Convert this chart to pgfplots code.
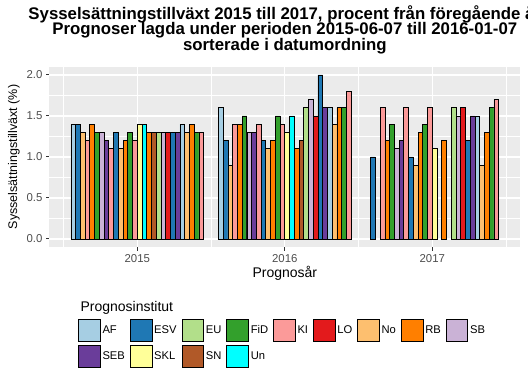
\documentclass[border=0pt]{standalone}
\usepackage{pgfplots}
\pgfplotsset{compat=1.18}
\usepackage{pgfplotstable}
\usepackage{fontspec}
\setmainfont{Liberation Sans}
\definecolor{cAF}{HTML}{A6CEE3}
\definecolor{cESV}{HTML}{1F78B4}
\definecolor{cEU}{HTML}{B2DF8A}
\definecolor{cFiD}{HTML}{33A02C}
\definecolor{cKI}{HTML}{FB9A99}
\definecolor{cLO}{HTML}{E31A1C}
\definecolor{cNo}{HTML}{FDBF6F}
\definecolor{cRB}{HTML}{FF7F00}
\definecolor{cSB}{HTML}{CAB2D6}
\definecolor{cSEB}{HTML}{6A3D9A}
\definecolor{cSKL}{HTML}{FFFF99}
\definecolor{cSN}{HTML}{B15928}
\definecolor{cUn}{HTML}{00FFFF}
\definecolor{panelbg}{HTML}{EBEBEB}
\definecolor{tickgrey}{HTML}{333333}
\definecolor{labgrey}{HTML}{4D4D4D}
\pgfplotstableread{
yr slot v
2015 1 1.4
2015 24 1.4
2016 1 1.6
2016 24 1.6
2017 24 1.5
}\tAF
\pgfplotstableread{
yr slot v
2015 2 1.4
2015 10 1.3
2015 22 1.3
2016 2 1.2
2016 10 1.2
2016 22 2.0
2017 2 1.0
2017 10 1.0
2017 22 1.2
}\tESV
\pgfplotstableread{
yr slot v
2015 19 1.3
2016 19 1.6
2017 19 1.6
}\tEU
\pgfplotstableread{
yr slot v
2015 6 1.3
2015 13 1.3
2015 27 1.3
2016 6 1.5
2016 13 1.5
2016 27 1.6
2017 6 1.4
2017 13 1.4
2017 27 1.6
}\tFiD
\pgfplotstableread{
yr slot v
2015 4 1.2
2015 9 1.1
2015 14 1.2
2015 28 1.3
2016 4 1.4
2016 9 1.4
2016 14 1.4
2016 28 1.8
2017 4 1.6
2017 9 1.6
2017 14 1.6
2017 28 1.7
}\tKI
\pgfplotstableread{
yr slot v
2015 21 1.3
2016 21 1.5
2017 21 1.6
}\tLO
\pgfplotstableread{
yr slot v
2015 3 1.3
2015 11 1.1
2015 25 1.3
2016 3 0.9
2016 11 1.1
2016 25 1.4
2017 11 0.9
2017 25 0.9
}\tNo
\pgfplotstableread{
yr slot v
2015 5 1.4
2015 12 1.2
2015 17 1.3
2015 26 1.4
2016 5 1.4
2016 12 1.2
2016 17 1.1
2016 26 1.6
2017 5 1.2
2017 12 1.3
2017 17 1.2
2017 26 1.3
}\tRB
\pgfplotstableread{
yr slot v
2015 7 1.3
2015 20 1.3
2016 7 1.3
2016 20 1.7
2017 7 1.1
2017 20 1.5
}\tSB
\pgfplotstableread{
yr slot v
2015 8 1.2
2015 23 1.3
2016 8 1.3
2016 23 1.6
2017 8 1.2
2017 23 1.5
}\tSEB
\pgfplotstableread{
yr slot v
2015 15 1.4
2016 15 1.3
2017 15 1.1
}\tSKL
\pgfplotstableread{
yr slot v
2015 18 1.3
2016 18 1.2
}\tSN
\pgfplotstableread{
yr slot v
2015 16 1.4
2016 16 1.5
}\tUn
\pgfplotsset{
  sqlegend/.style={legend image code/.code={\draw[##1,draw=black,line width=0.7pt] (0pt,-10.8pt) rectangle (21.6pt,10.8pt);}},
  mybar/.style={ybar, bar width=0.0321428571, bar shift=0pt, draw=black, line width=0.75pt, sqlegend},
}
\newcommand{\slotx}{\thisrow{yr}-0.45+(\thisrow{slot}-0.5)*0.0321428571}
\begin{document}
\begin{tikzpicture}[x=1pt,y=1pt]
\useasboundingbox (0pt,0pt) rectangle (528pt,372pt);
\begin{axis}[
  at={(49.5pt,124.8pt)}, anchor=south west,
  scale only axis, width=470.6pt, height=180.4pt,
  xmin=2014.405, xmax=2017.595, ymin=-0.1, ymax=2.1,
  axis background/.style={fill=panelbg},
  axis line style={draw=none},
  xtick={2015,2016,2017}, minor xtick={2014.5,2015.5,2016.5,2017.5},
  ytick={0,0.5,1,1.5,2}, minor ytick={0.25,0.75,1.25,1.75},
  grid=both,
  major grid style={white, line width=1.1pt},
  minor grid style={white, line width=0.55pt},
  tick pos=left, tick align=outside, major tick length=3.5pt, minor tick length=0pt,
  every tick/.append style={tickgrey, line width=1pt},
  every minor tick/.append style={draw=none},
  /pgf/number format/assume math mode=true,
  tick label style={font=\fontsize{11.4}{13}\selectfont, color=labgrey},
  x tick label style={/pgf/number format/1000 sep={}},
  y tick label style={/pgf/number format/.cd, fixed, fixed zerofill, precision=1},
  xlabel={Prognosår},
  xlabel style={font=\fontsize{14}{16}\selectfont, black, yshift=3pt},
  ylabel={Sysselsättningstillväxt (\%)},
  ylabel style={font=\fontsize{12.5}{14}\selectfont, black},
  legend columns=9,
  legend cell align=left,
  legend style={at={(axis description cs:0.0606,-0.398)}, anchor=north west,
    draw=none, fill=none, inner sep=0pt,
    font=\fontsize{11.2}{13}\selectfont, row sep=4pt,
    /tikz/every even column/.append style={column sep=3pt}},
]
\addplot[mybar, fill=cAF] table[x expr={\slotx}, y=v] {\tAF};
\addlegendentry{AF}
\addplot[mybar, fill=cESV] table[x expr={\slotx}, y=v] {\tESV};
\addlegendentry{ESV}
\addplot[mybar, fill=cEU] table[x expr={\slotx}, y=v] {\tEU};
\addlegendentry{EU}
\addplot[mybar, fill=cFiD] table[x expr={\slotx}, y=v] {\tFiD};
\addlegendentry{FiD}
\addplot[mybar, fill=cKI] table[x expr={\slotx}, y=v] {\tKI};
\addlegendentry{KI}
\addplot[mybar, fill=cLO] table[x expr={\slotx}, y=v] {\tLO};
\addlegendentry{LO}
\addplot[mybar, fill=cNo] table[x expr={\slotx}, y=v] {\tNo};
\addlegendentry{No}
\addplot[mybar, fill=cRB] table[x expr={\slotx}, y=v] {\tRB};
\addlegendentry{RB}
\addplot[mybar, fill=cSB] table[x expr={\slotx}, y=v] {\tSB};
\addlegendentry{SB}
\addplot[mybar, fill=cSEB] table[x expr={\slotx}, y=v] {\tSEB};
\addlegendentry{SEB}
\addplot[mybar, fill=cSKL] table[x expr={\slotx}, y=v] {\tSKL};
\addlegendentry{SKL}
\addplot[mybar, fill=cSN] table[x expr={\slotx}, y=v] {\tSN};
\addlegendentry{SN}
\addplot[mybar, fill=cUn] table[x expr={\slotx}, y=v] {\tUn};
\addlegendentry{Un}
\end{axis}
\node[anchor=base west, font=\fontsize{14}{16}\selectfont] at (77pt,60pt) {Prognosinstitut};
\begin{scope}[every node/.style={anchor=base, font=\bfseries\fontsize{16.8}{15}\selectfont, inner sep=0pt}]
\node at (284.8pt,352.7pt) {Sysselsättningstillväxt 2015 till 2017, procent från föregående år};
\node at (284.8pt,337.0pt) {Prognoser lagda under perioden 2015-06-07 till 2016-01-07};
\node at (284.8pt,321.3pt) {sorterade i datumordning};
\end{scope}
\end{tikzpicture}
\end{document}
